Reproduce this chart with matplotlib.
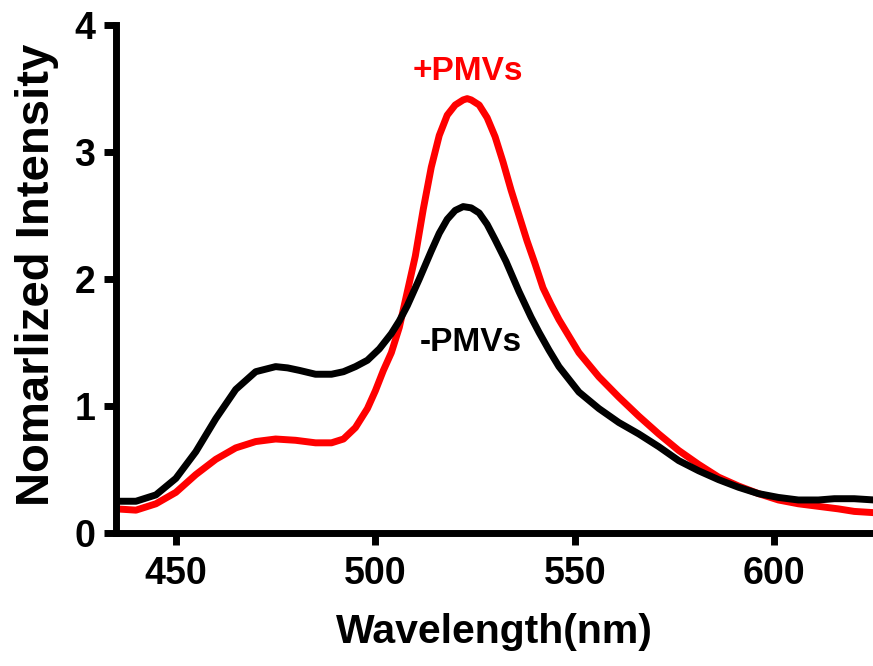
import matplotlib
matplotlib.use("Agg")
import matplotlib.pyplot as plt

# -PMVs (black)
wl_minus = [435, 440, 445, 450, 455, 460, 465, 470, 475, 478, 481, 485, 489, 492, 495,
            498, 501, 504, 506, 508, 511, 514, 516, 518, 520, 522, 524, 526, 528, 530,
            532.7, 536, 539, 541, 543.5, 546, 551, 556, 561, 566, 571, 576, 581, 586,
            591, 596, 601, 606, 611, 615, 620, 625]
int_minus = [0.25, 0.25, 0.30, 0.43, 0.64, 0.90, 1.13, 1.27, 1.31, 1.30, 1.28, 1.25, 1.25, 1.27, 1.31,
             1.36, 1.45, 1.57, 1.67, 1.79, 2.00, 2.22, 2.36, 2.47, 2.54, 2.57, 2.56, 2.52, 2.43, 2.31,
             2.14, 1.90, 1.70, 1.58, 1.44, 1.31, 1.11, 0.98, 0.87, 0.78, 0.68, 0.57, 0.49, 0.42,
             0.36, 0.31, 0.28, 0.26, 0.26, 0.27, 0.27, 0.26]

# +PMVs (red)
wl_plus = [435, 440, 445, 450, 455, 460, 465, 470, 475, 480, 485, 489, 492, 495, 498,
           500, 502, 504, 506, 508, 510, 512, 514, 516, 518, 520, 522, 523, 524, 526,
           528, 530, 532, 534, 536, 538, 540, 542, 544, 546, 551, 556, 561, 566, 571,
           576, 581, 586, 591, 596, 601, 606, 611, 616, 620, 625]
int_plus = [0.19, 0.18, 0.23, 0.32, 0.46, 0.58, 0.67, 0.72, 0.74, 0.73, 0.71, 0.71, 0.74, 0.83, 0.98,
            1.12, 1.28, 1.42, 1.62, 1.90, 2.18, 2.55, 2.88, 3.13, 3.29, 3.37, 3.41, 3.42, 3.41, 3.37,
            3.27, 3.12, 2.92, 2.70, 2.50, 2.30, 2.12, 1.93, 1.80, 1.68, 1.42, 1.23, 1.07, 0.92, 0.78,
            0.65, 0.54, 0.44, 0.37, 0.31, 0.26, 0.23, 0.21, 0.19, 0.17, 0.16]

x_ticks = [450, 500, 550, 600]
y_ticks = [0, 1, 2, 3, 4]

plt.rcParams['font.family'] = ['Liberation Sans', 'DejaVu Sans']
plt.rcParams['font.weight'] = 'bold'

fig = plt.figure(figsize=(8.73, 6.66), dpi=100)
ax = fig.add_axes([0.1329, 0.1997, 0.8671, 0.7628])

ax.plot(wl_minus, int_minus, color='black', lw=5, solid_joinstyle='round', solid_capstyle='butt', zorder=3)
ax.plot(wl_plus, int_plus, color='#ff0000', lw=5, solid_joinstyle='round', solid_capstyle='butt', zorder=2)

ax.set_xlim(435, 624.7)
ax.set_ylim(0, 4)
ax.set_xticks(x_ticks)
ax.set_yticks(y_ticks)

for s in ['top', 'right']:
    ax.spines[s].set_visible(False)
for s in ['left', 'bottom']:
    ax.spines[s].set_linewidth(5)
ax.tick_params(axis='both', which='major', length=8.5, width=5, labelsize=27, direction='out')
ax.tick_params(axis='x', pad=8)
ax.tick_params(axis='y', pad=6.5)
for lab in ax.get_xticklabels() + ax.get_yticklabels():
    lab.set_fontweight('bold')

ax.set_xlabel('Wavelength(nm)', fontsize=29.5, fontweight='bold')
ax.set_ylabel('Nomarlized Intensity', fontsize=34, fontweight='bold')
ax.xaxis.set_label_coords(0.5, -0.158)
ax.yaxis.set_label_coords(-0.075, 0.508)

ax.text(523.3, 3.63, '+PMVs', color='#ff0000', fontsize=24, fontweight='bold', ha='center', va='center')
ax.text(524.0, 1.50, '-PMVs', color='black', fontsize=24, fontweight='bold', ha='center', va='center')

fig.savefig('out.png', dpi=100)
